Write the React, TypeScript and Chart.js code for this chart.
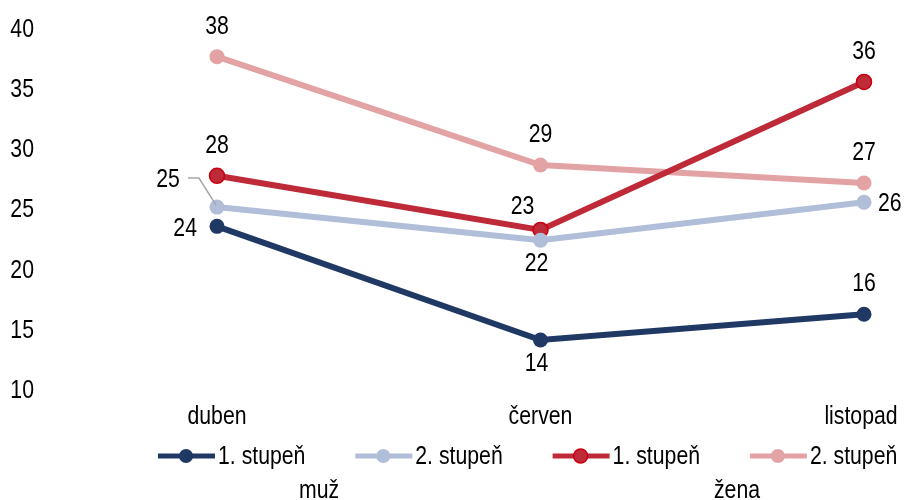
import React, { useEffect, useRef } from "react";
import { Chart, registerables } from "chart.js";

Chart.register(...registerables);

const categories = ["duben", "červen", "listopad"];
const seriesNames = ["1. stupeň", "2. stupeň", "1. stupeň", "2. stupeň"];
const groupNames = ["muž", "žena"];
const muz1 = [23.6, 14.15, 16.3];
const muz2 = [25.2, 22.45, 25.6];
const zena1 = [27.8, 23.3, 35.6];
const zena2 = [37.7, 28.7, 27.2];
const yTicks = [10, 15, 20, 25, 30, 35, 40];

const colors = ["#203864", "#B0BED9", "#BE2A38", "#E3A3A5"];
const borderColors = ["#203864", "#B0BED9", "#C8000F", "#E3A3A5"];
const FONT = "'Liberation Sans', Arial, sans-serif";
const FS = 25;
const NARROW = 0.85;

// label placement per series per point
const placements = [
  ["left", "below", "above"],
  ["callout", "below", "right"],
  ["above", "aboveLeft", "above"],
  ["above", "above", "above"],
];

function narrowText(ctx: any, txt: string, x: number, y: number, align: string) {
  ctx.save();
  ctx.font = `${FS}px ${FONT}`;
  ctx.fillStyle = "#000";
  ctx.textBaseline = "middle";
  ctx.textAlign = align;
  ctx.translate(x, y);
  ctx.scale(NARROW, 1);
  ctx.fillText(txt, 0, 0);
  ctx.restore();
}

const axisTextPlugin = {
  id: "axisText",
  afterDraw(chart: any) {
    const ctx = chart.ctx;
    const ys = chart.scales.y;
    const xs = chart.scales.x;
    yTicks.forEach((v) => {
      narrowText(ctx, String(v), 34, ys.getPixelForValue(v) + 1, "right");
    });
    categories.forEach((c, i) => {
      const x = xs.getPixelForValue(i);
      const shift = i === categories.length - 1 ? -3 : 0;
      narrowText(ctx, c, x + shift, 417, "center");
    });
  },
};

const labelsPlugin = {
  id: "valueLabels",
  afterDatasetsDraw(chart: any) {
    const ctx = chart.ctx;
    chart.data.datasets.forEach((ds: any, di: number) => {
      const meta = chart.getDatasetMeta(di);
      meta.data.forEach((pt: any, i: number) => {
        const txt = String(Math.round(ds.data[i]));
        const p = placements[di][i];
        const x = pt.x;
        const y = pt.y;
        if (p === "above") narrowText(ctx, txt, x, y - 30, "center");
        else if (p === "below") narrowText(ctx, txt, x - 4, y + 24, "center");
        else if (p === "aboveLeft") narrowText(ctx, txt, x - 18, y - 23, "center");
        else if (p === "left") narrowText(ctx, txt, x - 20, y + 3, "right");
        else if (p === "right") narrowText(ctx, txt, x + 14, y + 2, "left");
        else if (p === "callout") {
          narrowText(ctx, txt, x - 49, y - 27, "center");
          ctx.save();
          ctx.strokeStyle = "#A6A6A6";
          ctx.lineWidth = 1.5;
          ctx.beginPath();
          ctx.moveTo(x - 29, y - 29);
          ctx.lineTo(x - 18, y - 29);
          ctx.lineTo(x - 1, y - 2);
          ctx.stroke();
          ctx.restore();
        }
      });
    });
  },
};

const legendPlugin = {
  id: "groupLegend",
  afterDraw(chart: any) {
    const ctx = chart.ctx;
    ctx.save();
    const startX = 158;
    const step = 197.3;
    const ly = 456;
    chart.data.datasets.forEach((ds: any, di: number) => {
      const x0 = startX + di * step;
      ctx.strokeStyle = colors[di];
      ctx.lineWidth = 5;
      ctx.beginPath();
      ctx.moveTo(x0, ly);
      ctx.lineTo(x0 + 57, ly);
      ctx.stroke();
      ctx.beginPath();
      ctx.arc(x0 + 28, ly, 7, 0, Math.PI * 2);
      ctx.fillStyle = colors[di];
      ctx.fill();
      if (borderColors[di] !== colors[di]) {
        ctx.strokeStyle = borderColors[di];
        ctx.lineWidth = 1.5;
        ctx.stroke();
      }
      narrowText(ctx, ds.label, x0 + 60, ly + 1, "left");
    });
    narrowText(ctx, groupNames[0], 319, 491, "center");
    narrowText(ctx, groupNames[1], 737, 491, "center");
    ctx.restore();
  },
};

export default function App() {
  const ref = useRef<HTMLCanvasElement | null>(null);
  useEffect(() => {
    if (!ref.current) return;
    const series = [muz1, muz2, zena1, zena2];
    const chart = new Chart(ref.current, {
      type: "line",
      data: {
        labels: categories,
        datasets: series.map((d, i) => ({
          label: seriesNames[i],
          data: d,
          borderColor: colors[i],
          backgroundColor: colors[i],
          pointBackgroundColor: colors[i],
          pointBorderColor: borderColors[i],
          pointBorderWidth: i === 2 ? 1.5 : 0,
          borderWidth: 6,
          pointRadius: 7.5,
          tension: 0,
          clip: false,
        })) as any,
      },
      options: {
        responsive: false,
        animation: false,
        layout: { padding: { left: 12, right: 40, top: 29, bottom: 60 } },
        plugins: {
          legend: { display: false },
          tooltip: { enabled: false },
        },
        scales: {
          x: {
            grid: { display: false, drawTicks: false },
            border: { display: false },
            ticks: { display: false },
            afterFit: (s: any) => {
              s.height = 50;
            },
          },
          y: {
            min: 10,
            max: 40,
            grid: { display: false, drawTicks: false },
            border: { display: false },
            ticks: { display: false },
            afterFit: (s: any) => {
              s.width = 205;
            },
          },
        },
      },
      plugins: [labelsPlugin, axisTextPlugin, legendPlugin],
    });
    return () => chart.destroy();
  }, []);
  return (
    <div style={{ position: "absolute", left: 0, top: 0, width: 904, height: 500 }}>
      <canvas ref={ref} width={904} height={500} style={{ width: 904, height: 500 }} />
    </div>
  );
}
